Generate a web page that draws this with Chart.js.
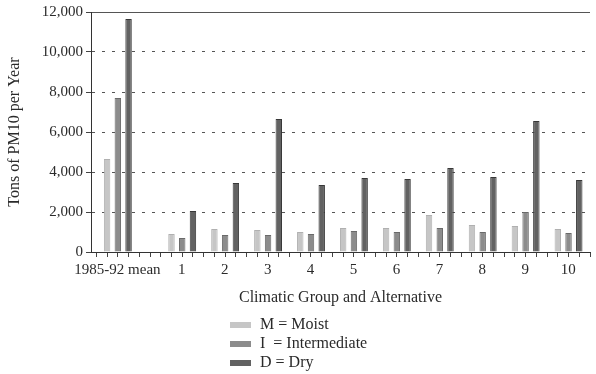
<!DOCTYPE html>
<html>
<head>
<meta charset="utf-8">
<script src="https://cdn.jsdelivr.net/npm/chart.js@4.4.1/dist/chart.umd.min.js"></script>
<style>
  html, body { margin: 0; padding: 0; background: #fff; }
  #wrap { width: 596px; height: 374px; }
</style>
</head>
<body>
<div id="wrap"><canvas id="chart"></canvas></div>
<script>
const categories = ["1985-92 mean", "1", "2", "3", "4", "5", "6", "7", "8", "9", "10"];
const moist = [4650, 900, 1150, 1100, 1000, 1200, 1200, 1850, 1350, 1300, 1150];
const intermediate = [7700, 700, 850, 850, 900, 1050, 1000, 1200, 1000, 2000, 950];
const dry = [11650, 2050, 3450, 6650, 3350, 3700, 3650, 4200, 3750, 6550, 3600];
const legendLabels = ["M = Moist", "I  = Intermediate", "D = Dry"];
const yTicks = [0, 2000, 4000, 6000, 8000, 10000, 12000];

const FONT = "'Liberation Serif', 'DejaVu Serif', serif";
const TEXT = "#2a2a2a";

// the mean group sits apart, alternatives 1..10 are one unit apart after a gap
const groupPos = categories.map((c, i) => (i === 0 ? 0 : i + 0.5));
const shift = [-0.25, 0, 0.25];

function points(values, k) {
  return values.map((v, i) => ({ x: groupPos[i] + shift[k], y: v }));
}

// small bottom-left legend, stacked
const stackedLegend = {
  id: "stackedLegend",
  afterDraw(chart) {
    const ctx = chart.ctx;
    const base = chart.chartArea.bottom + 73;
    ctx.save();
    ctx.font = "16px " + FONT;
    ctx.textBaseline = "middle";
    chart.data.datasets.forEach((ds, i) => {
      const y = base + i * 19;
      ctx.fillStyle = ds.backgroundColor;
      ctx.fillRect(230, y - 3, 21, 6);
      ctx.fillStyle = TEXT;
      ctx.fillText(legendLabels[i], 260, y);
    });
    ctx.restore();
  },
};

new Chart(document.getElementById("chart"), {
  type: "bar",
  data: {
    datasets: [
      {
        label: legendLabels[0],
        data: points(moist, 0),
        backgroundColor: "#c6c6c6",
        borderColor: "#b0b0b0",
        borderWidth: 1,
      },
      {
        label: legendLabels[1],
        data: points(intermediate, 1),
        backgroundColor: "#8c8c8c",
        borderColor: "#6a6a6a",
        borderWidth: 1,
      },
      {
        label: legendLabels[2],
        data: points(dry, 2),
        backgroundColor: "#626262",
        borderColor: "#383838",
        borderWidth: 1,
      },
    ],
  },
  options: {
    responsive: true,
    maintainAspectRatio: false,
    animation: false,
    grouped: false,
    categoryPercentage: 1,
    barPercentage: 0.6,
    layout: { padding: { top: 11, right: 6, bottom: 62, left: 0 } },
    scales: {
      x: {
        type: "linear",
        offset: false,
        min: -0.625,
        max: 11,
        afterFit: (s) => { s.height = 60; },
        afterBuildTicks: (s) => {
          const t = [];
          for (let v = -0.625; v <= 10.9; v += 0.25) t.push({ value: v });
          s.ticks = t;
        },
        ticks: {
          autoSkip: false,
          maxRotation: 0,
          padding: 4,
          labelOffset: 5,
          color: TEXT,
          font: { family: FONT, size: 15 },
          callback: (v) => {
            const i = groupPos.indexOf(v + 0.125);
            return i >= 0 ? categories[i] : "";
          },
        },
        grid: {
          drawOnChartArea: false,
          tickLength: 5,
          tickColor: "#444",
        },
        border: { color: "#333", width: 1 },
        title: {
          display: true,
          text: "Climatic Group and Alternative",
          color: TEXT,
          font: { family: FONT, size: 16 },
          padding: { top: 0, bottom: 5 },
        },
      },
      y: {
        min: 0,
        max: 12000,
        afterFit: (s) => { s.width = 91; },
        ticks: {
          stepSize: 1000,
          padding: 3,
          color: TEXT,
          font: { family: FONT, size: 15 },
          callback: (v) => (yTicks.includes(v) ? v.toLocaleString("en-US") : ""),
        },
        grid: {
          tickLength: 5,
          tickColor: "#444",
          color: (c) => (c.tick && c.tick.value > 0 && c.tick.value % 2000 === 0 ? "#555" : "rgba(0,0,0,0)"),
        },
        border: {
          color: "#333",
          width: 1,
          dash: (c) => (c.tick && c.tick.value === 12000 ? [] : [3, 7]),
        },
        title: {
          display: true,
          text: "Tons of PM10 per Year",
          color: TEXT,
          font: { family: FONT, size: 16 },
          padding: { top: 5, bottom: 0 },
        },
      },
    },
    plugins: {
      legend: { display: false },
      tooltip: { enabled: false },
    },
  },
  plugins: [stackedLegend],
});
</script>
</body>
</html>
